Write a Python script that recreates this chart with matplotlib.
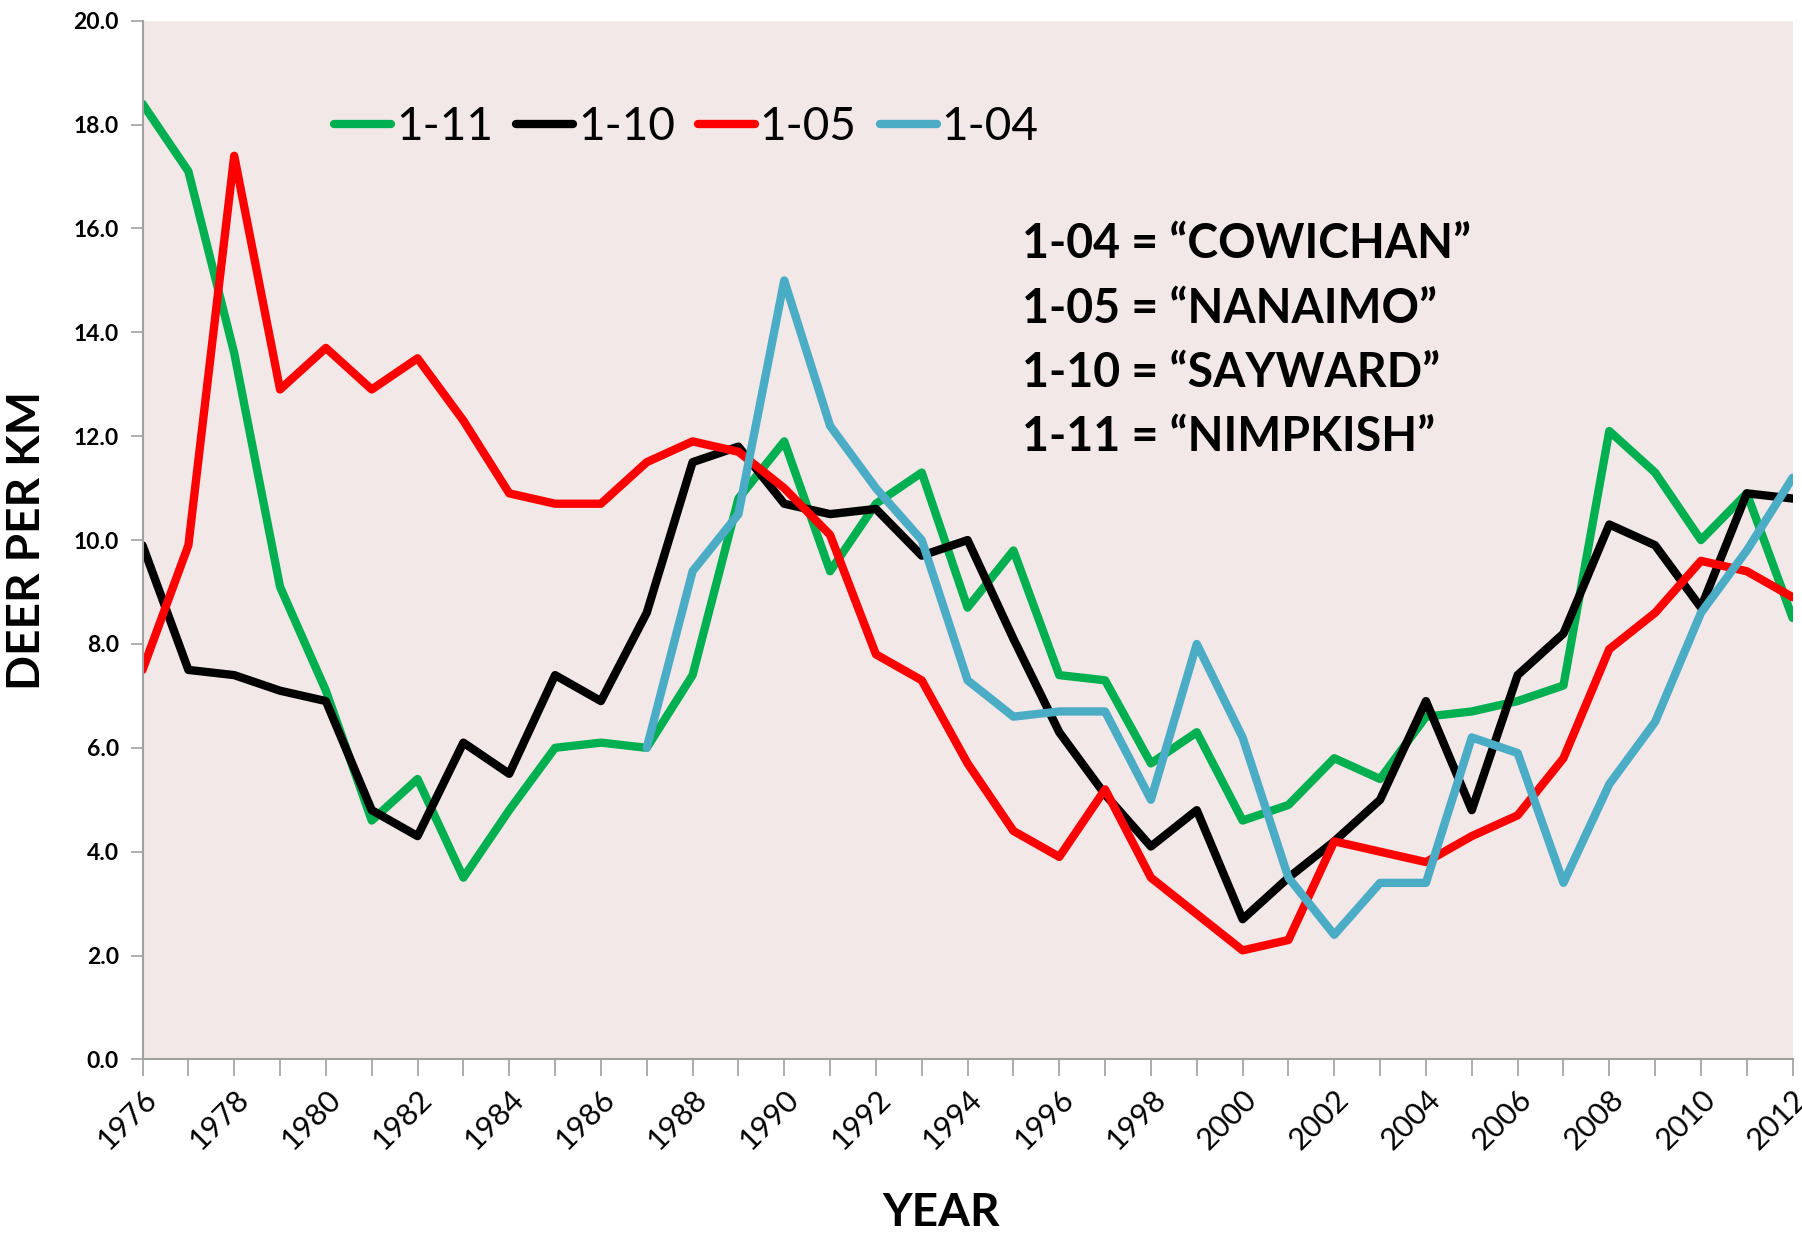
import numpy as np
import matplotlib
matplotlib.use('Agg')
import matplotlib.pyplot as plt
from matplotlib.ticker import MultipleLocator, FormatStrFormatter

plt.rcParams['font.family'] = ['Lato', 'DejaVu Sans']

# data
years = np.arange(1976, 2013)
unit_1_11 = [18.4, 17.1, 13.6, 9.1, 7.1, 4.6, 5.4, 3.5, 4.8, 6.0, 6.1, 6.0, 7.4, 10.8, 11.9,
             9.4, 10.7, 11.3, 8.7, 9.8, 7.4, 7.3, 5.7, 6.3, 4.6, 4.9, 5.8, 5.4, 6.6, 6.7,
             6.9, 7.2, 12.1, 11.3, 10.0, 10.9, 8.5]
unit_1_10 = [9.9, 7.5, 7.4, 7.1, 6.9, 4.8, 4.3, 6.1, 5.5, 7.4, 6.9, 8.6, 11.5, 11.8, 10.7,
             10.5, 10.6, 9.7, 10.0, 8.1, 6.3, 5.1, 4.1, 4.8, 2.7, 3.5, 4.2, 5.0, 6.9, 4.8,
             7.4, 8.2, 10.3, 9.9, 8.7, 10.9, 10.8]
unit_1_05 = [7.5, 9.9, 17.4, 12.9, 13.7, 12.9, 13.5, 12.3, 10.9, 10.7, 10.7, 11.5, 11.9, 11.7,
             11.0, 10.1, 7.8, 7.3, 5.7, 4.4, 3.9, 5.2, 3.5, 2.8, 2.1, 2.3, 4.2, 4.0, 3.8, 4.3,
             4.7, 5.8, 7.9, 8.6, 9.6, 9.4, 8.9]
years_1_04 = np.arange(1987, 2013)
unit_1_04 = [6.0, 9.4, 10.5, 15.0, 12.2, 11.0, 10.0, 7.3, 6.6, 6.7, 6.7, 5.0, 8.0, 6.2, 3.5,
             2.4, 3.4, 3.4, 6.2, 5.9, 3.4, 5.3, 6.5, 8.6, 9.8, 11.2]

names = ['1-04 = \u201cCOWICHAN\u201d', '1-05 = \u201cNANAIMO\u201d',
         '1-10 = \u201cSAYWARD\u201d', '1-11 = \u201cNIMPKISH\u201d']

fig = plt.figure(figsize=(18.02, 12.41), dpi=100)
ax = fig.add_axes([0.0791, 0.1463, 0.9157, 0.837])
ax.set_facecolor('#F2E8E8')

lw = 6
ax.plot(years, unit_1_11, color='#00B050', lw=lw, label='1-11', solid_capstyle='round')
ax.plot(years, unit_1_10, color='black', lw=lw, label='1-10', solid_capstyle='round')
ax.plot(years, unit_1_05, color='#FF0000', lw=lw, label='1-05', solid_capstyle='round')
ax.plot(years_1_04, unit_1_04, color='#4BACC6', lw=lw, label='1-04', solid_capstyle='round')

ax.set_xlim(1976, 2012)
ax.set_ylim(0, 20)
ax.xaxis.set_major_locator(MultipleLocator(2))
ax.xaxis.set_minor_locator(MultipleLocator(1))
ax.yaxis.set_major_locator(MultipleLocator(2))
ax.yaxis.set_major_formatter(FormatStrFormatter('%.1f'))

for s in ['top', 'right']:
    ax.spines[s].set_visible(False)
for s in ['left', 'bottom']:
    ax.spines[s].set_color('#A0A0A0')
    ax.spines[s].set_linewidth(1.5)

ax.tick_params(axis='y', direction='out', length=9, width=1.2, color='#A0A0A0',
               labelsize=16.5, pad=8)
ax.tick_params(axis='x', which='both', direction='out', length=12, width=1.2,
               color='#A0A0A0', labelsize=22, pad=6)
for lab in ax.get_yticklabels():
    lab.set_fontweight('bold')
plt.setp(ax.get_xticklabels(), rotation=45, ha='right', rotation_mode='anchor')

ax.set_ylabel('DEER PER KM', fontsize=33, fontweight='bold', labelpad=18)
ax.set_xlabel('YEAR', fontsize=33, fontweight='bold')
ax.xaxis.set_label_coords(0.484, -0.128)

leg = ax.legend(loc='center left', bbox_to_anchor=(0.105, 0.898), ncol=4, frameon=False,
                fontsize=33, handlelength=1.25, handletextpad=0.1, columnspacing=0.5,
                borderaxespad=0)

ax.text(0.533, 0.692, '\n'.join(names), transform=ax.transAxes, fontsize=33.5,
        fontweight='bold', va='center', ha='left', linespacing=1.56)

fig.savefig('out.png', dpi=100)
